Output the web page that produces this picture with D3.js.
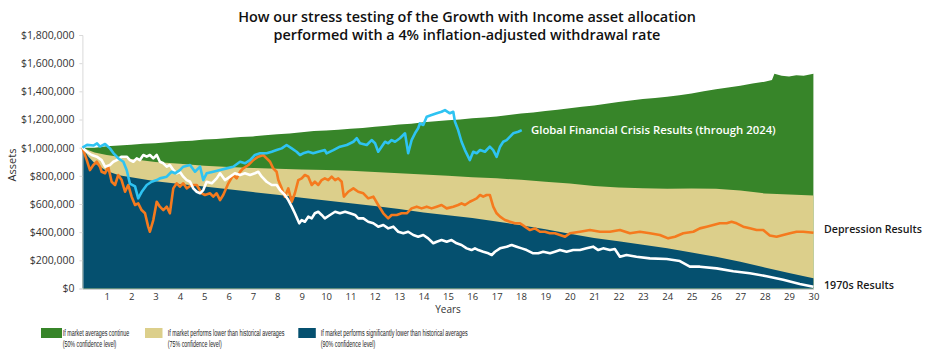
<!DOCTYPE html>
<html><head><meta charset="utf-8">
<script src="https://cdn.jsdelivr.net/npm/d3@7"></script>
<style>
html,body{margin:0;padding:0;background:#fff;}
svg{display:block;font-family:"Open Sans","Noto Sans",sans-serif;}
</style></head>
<body><svg id="chart" width="936" height="362"></svg>
<script>
// ---- data (values in $ thousands) ----
const titleLines = ["How our stress testing of the Growth with Income asset allocation",
                    "performed with a 4% inflation-adjusted withdrawal rate"];
const yTicks = [0, 200, 400, 600, 800, 1000, 1200, 1400, 1600, 1800];
const xTicks = [1,2,3,4,5,6,7,8,9,10,11,12,13,14,15,16,17,18,19,20,21,22,23,24,25,26,27,28,29,30];

// 50% confidence level (top of green band)
const p50 = [[0,1000],[0.5,1000],[1,1010],[1.5,1015],[2,1020],[2.5,1028],[3,1032],[3.5,1038],[4,1045],[4.5,1050],
  [5,1058],[5.5,1062],[6,1068],[6.5,1075],[7,1080],[7.5,1088],[8,1095],[8.5,1100],[9,1110],[9.5,1118],
  [10,1122],[10.5,1128],[11,1135],[11.5,1140],[12,1148],[12.5,1155],[13,1165],[13.5,1170],[14,1180],[14.5,1188],
  [15,1195],[15.5,1200],[16,1208],[16.5,1215],[17,1222],[17.5,1232],[18,1242],[18.5,1250],[19,1260],[19.5,1270],
  [20,1280],[20.5,1290],[21,1300],[21.5,1312],[22,1325],[22.5,1335],[23,1345],[23.5,1352],[24,1362],[24.5,1372],
  [25,1385],[25.5,1400],[26,1415],[26.5,1428],[27,1440],[27.5,1455],[28,1468],[28.3,1480],[28.4,1525],[28.7,1510],
  [29,1505],[29.3,1515],[29.6,1510],[30,1525]];
// 75% confidence level (top of tan band)
const p75 = [[0,1000],[0.5,965],[1,948],[1.5,935],[2,920],[2.5,908],[3,898],[4,885],[5,872],[6,862],[7,856],[8,850],
  [9,845],[10,842],[11,836],[12,828],[13,818],[14,810],[15,800],[16,790],[17,782],[18,772],[19,758],[20,745],
  [21,728],[22,718],[23,712],[24,708],[25,710],[26,708],[27,695],[28,675],[29,668],[30,660]];
// 90% confidence level (top of blue band)
const p90 = [[0,1000],[0.25,935],[0.5,890],[1,835],[1.5,805],[2,790],[3,762],[4,742],[5,725],[6,705],[7,685],[8,665],
  [9,645],[10,625],[11,605],[12,585],[13,565],[14,540],[15,520],[16,500],[17,475],[18,450],[19,420],[20,388],
  [21,358],[22,335],[23,310],[24,285],[25,255],[26,225],[27,190],[28,150],[29,110],[30,72]];

const gfc = [[0,1000],[0.19,1020],[0.45,1015],[0.6,1030],[0.72,1007],[0.93,1026],[1.13,995],[1.27,962],[1.47,925],
  [1.68,900],[1.82,840],[1.95,745],[2.16,725],[2.29,640],[2.43,685],[2.64,735],[2.84,758],[3.05,770],[3.18,782],
  [3.46,794],[3.66,829],[3.8,818],[4,841],[4.14,865],[4.42,877],[4.62,829],[4.83,865],[4.96,770],[5.1,818],
  [5.37,829],[5.65,841],[5.92,853],[6.19,865],[6.47,900],[6.67,889],[6.88,912],[7.08,948],[7.29,960],[7.56,960],
  [7.77,971],[7.97,983],[8.18,995],[8.38,1019],[8.59,995],[8.79,971],[8.93,948],[9.06,960],[9.27,971],[9.47,960],
  [9.68,971],[9.95,983],[10.02,960],[10.3,983],[10.57,1007],[10.85,1019],[11.12,1042],[11.26,1067],[11.39,1031],
  [11.67,1019],[11.87,1054],[12.01,1031],[12.14,971],[12.28,1007],[12.42,1042],[12.55,1031],[12.69,1054],
  [12.83,1042],[13.03,1067],[13.24,1102],[13.37,960],[13.51,1054],[13.65,1102],[13.78,1138],[13.85,1173],
  [13.99,1161],[14.13,1220],[14.33,1232],[14.54,1244],[14.74,1255],[14.88,1267],[15.08,1244],[15.22,1255],
  [15.29,1184],[15.42,1125],[15.56,1042],[15.7,983],[15.9,912],[16.04,971],[16.18,960],[16.32,983],[16.52,971],
  [16.72,1007],[16.86,983],[17,935],[17.14,1007],[17.27,1042],[17.41,1054],[17.55,1078],[17.68,1102],
  [17.89,1113],[18.03,1125]];

const depression = [[0,1000],[0.18,912],[0.31,841],[0.45,877],[0.59,900],[0.72,865],[0.79,829],[0.93,818],[1.06,865],
  [1.2,758],[1.34,735],[1.47,806],[1.61,770],[1.75,687],[1.88,735],[2.02,652],[2.16,593],[2.29,605],[2.43,557],
  [2.57,534],[2.7,439],[2.77,403],[2.91,486],[3.05,616],[3.18,581],[3.32,557],[3.46,581],[3.59,534],[3.73,711],
  [3.87,747],[4,723],[4.14,747],[4.28,711],[4.48,735],[4.69,735],[4.9,676],[5.03,664],[5.24,676],[5.37,652],
  [5.51,676],[5.65,628],[5.78,664],[5.99,747],[6.19,806],[6.33,782],[6.47,829],[6.6,853],[6.81,877],[7.01,912],
  [7.22,936],[7.42,948],[7.56,924],[7.7,900],[7.83,853],[7.97,829],[8.04,770],[8.18,711],[8.31,652],[8.45,711],
  [8.59,616],[8.72,676],[8.86,770],[9,782],[9.13,806],[9.27,794],[9.41,735],[9.54,758],[9.68,735],[9.82,770],
  [9.95,782],[10.09,770],[10.23,794],[10.37,770],[10.5,782],[10.64,758],[10.73,652],[10.91,687],[11.12,711],
  [11.32,687],[11.53,676],[11.73,640],[11.94,652],[12.14,593],[12.35,534],[12.55,498],[12.69,522],[12.9,522],
  [13.1,534],[13.31,534],[13.51,569],[13.72,581],[13.92,569],[14.13,581],[14.33,569],[14.54,581],[14.74,593],
  [14.95,569],[15.22,581],[15.42,593],[15.56,605],[15.7,593],[15.9,616],[16.04,628],[16.18,640],[16.32,664],
  [16.45,652],[16.59,664],[16.72,664],[16.86,581],[17,534],[17.14,510],[17.34,486],[17.55,474],[17.75,463],
  [17.96,463],[18.16,439],[18.37,415],[18.57,427],[18.78,403],[18.98,403],[19.19,392],[19.39,392],[19.6,380],
  [19.81,368],[20.01,392],[20.42,403],[20.83,415],[21.24,403],[21.65,403],[22.06,415],[22.47,392],[22.88,403],
  [23.29,392],[23.7,380],[24.04,356],[24.32,368],[24.66,392],[25.07,403],[25.34,427],[25.62,439],[25.89,451],
  [26.16,463],[26.44,463],[26.64,474],[26.85,463],[27.12,439],[27.39,427],[27.67,415],[27.94,415],[28.21,376],
  [28.49,368],[28.76,380],[29.04,392],[29.31,403],[29.58,403],[30,396]];

const seventies = [[0,1000],[0.18,971],[0.38,948],[0.59,936],[0.79,912],[0.93,865],[1.13,877],[1.27,900],[1.41,912],
  [1.61,936],[1.82,936],[1.95,912],[2.09,900],[2.23,924],[2.36,912],[2.5,948],[2.64,936],[2.77,948],[2.91,924],
  [3.05,948],[3.18,900],[3.32,889],[3.46,865],[3.59,877],[3.73,841],[3.87,818],[4,829],[4.14,794],[4.28,770],
  [4.42,758],[4.55,711],[4.69,687],[4.83,676],[4.96,699],[5.1,758],[5.31,747],[5.51,782],[5.65,818],[5.85,770],
  [6.06,794],[6.26,818],[6.47,806],[6.67,818],[6.88,806],[7.08,818],[7.22,829],[7.36,794],[7.56,758],[7.77,735],
  [7.97,735],[8.11,699],[8.31,664],[8.45,628],[8.59,581],[8.72,534],[8.9,463],[9,486],[9.13,474],[9.27,510],
  [9.41,498],[9.54,534],[9.68,545],[9.82,522],[9.95,498],[10.16,522],[10.37,545],[10.57,534],[10.78,545],
  [10.98,534],[11.19,522],[11.32,498],[11.53,498],[11.73,474],[11.94,463],[12.14,439],[12.35,451],[12.55,427],
  [12.76,439],[12.96,403],[13.17,392],[13.37,403],[13.58,380],[13.78,368],[13.99,380],[14.19,356],[14.4,321],
  [14.54,332],[14.74,344],[14.95,332],[15.15,344],[15.36,321],[15.56,309],[15.77,285],[15.97,273],[16.11,285],
  [16.25,273],[16.45,261],[16.66,250],[16.8,238],[16.93,261],[17.14,285],[17.41,297],[17.62,309],[17.82,297],
  [18.03,285],[18.23,273],[18.5,250],[18.71,250],[18.91,261],[19.19,250],[19.39,261],[19.6,273],[19.87,261],
  [20.14,273],[20.42,273],[20.69,285],[20.96,297],[21.17,273],[21.37,285],[21.65,273],[21.85,280],[22.06,226],
  [22.33,238],[22.74,226],[23.29,214],[23.98,209],[24.52,195],[24.93,155],[25.34,155],[26.03,143],[26.71,123],
  [27.39,108],[28.08,87],[28.76,62],[29.44,32],[30,13]];

const legendItems = [
  {label1:"If market averages continue", label2:"(50% confidence level)", key:"p50"},
  {label1:"If market performs lower than historical averages", label2:"(75% confidence level)", key:"p75"},
  {label1:"If market performs significantly lower than historical averages", label2:"(90% confidence level)", key:"p90"}
];
const annotations = [
  {text:"Global Financial Crisis Results (through 2024)", key:"gfc"},
  {text:"Depression Results", key:"dep"},
  {text:"1970s Results", key:"s70"}
];

// ---- styles ----
const colors = {p50:"#378529", p75:"#dccf8b", p90:"#05506f", gfc:"#2ec3f2", dep:"#f57a1e", s70:"#ffffff"};

const svg = d3.select("#chart");
const x = d3.scaleLinear().domain([0,30]).range([82.4, 813.4]);
const y = d3.scaleLinear().domain([0,1800]).range([288.5, 35]);

// title
svg.append("g").selectAll("text").data(titleLines).join("text")
  .attr("x", 467).attr("y", (d,i)=> 22 + i*17.5)
  .attr("text-anchor","middle")
  .attr("font-size", 14.4).attr("font-weight", 600).attr("fill","#111")
  .text(d=>d);

// areas
const area = d3.area().x(d=>x(d[0])).y0(y(0)).y1(d=>y(d[1])).curve(d3.curveLinear);
svg.append("path").datum(p50).attr("d", area).attr("fill", colors.p50);
svg.append("path").datum(p75).attr("d", area).attr("fill", colors.p75);
svg.append("path").datum(p90).attr("d", area).attr("fill", colors.p90);

// axes
const yAxis = d3.axisLeft(y).tickValues(yTicks).tickSize(3).tickPadding(5)
  .tickFormat(d => "$" + d3.format(",")(d*1000));
const gy = svg.append("g").attr("transform", `translate(${x(0)},0)`).call(yAxis);
gy.select(".domain").attr("stroke","#d9d9d9");
gy.selectAll(".tick line").attr("stroke","#d9d9d9");
gy.selectAll("text").attr("font-size", 10.5).attr("fill","#333").attr("font-family","'Open Sans',sans-serif");

const xAxis = d3.axisBottom(x).tickValues(xTicks).tickSize(0).tickPadding(4).tickFormat(d3.format("d"));
const gx = svg.append("g").attr("transform", `translate(0,${y(0)+0.5})`).call(xAxis);
gx.select(".domain").attr("stroke","#d0d0d0");
gx.selectAll("text").attr("font-size", 9.5).attr("fill","#333").attr("font-family","'Open Sans',sans-serif");

svg.append("text").attr("x", 448).attr("y", 313).attr("text-anchor","middle")
  .attr("font-size", 10).attr("fill","#333").text("Years");
svg.append("text").attr("transform","translate(16,165) rotate(-90)").attr("text-anchor","middle")
  .attr("font-size", 11).attr("fill","#333").text("Assets");

// lines
const line = d3.line().x(d=>x(d[0])).y(d=>y(d[1])).curve(d3.curveLinear);
svg.append("path").datum(depression).attr("d", line).attr("fill","none")
  .attr("stroke", colors.dep).attr("stroke-width", 2.6).attr("stroke-linejoin","round");
svg.append("path").datum(seventies).attr("d", line).attr("fill","none")
  .attr("stroke", colors.s70).attr("stroke-width", 2.6).attr("stroke-linejoin","round");
svg.append("path").datum(gfc).attr("d", line).attr("fill","none")
  .attr("stroke", colors.gfc).attr("stroke-width", 2.6).attr("stroke-linejoin","round");

// helper: horizontally condense a text to a target width
function fitWidth(sel, xPos, yPos, w) {
  sel.each(function(d,i){
    const t = d3.select(this);
    const n = this.getComputedTextLength();
    const sx = Math.min(1, w(d,i) / n);
    t.attr("x", 0).attr("y", 0)
     .attr("transform", `translate(${xPos(d,i)},${yPos(d,i)}) scale(${sx},1)`);
  });
}

// annotations
const annPos = {gfc:[531,134,"#ffffff",245], dep:[824,233,"#1a1a1a",98], s70:[824,289,"#1a1a1a",70]};
svg.append("g").selectAll("text").data(annotations).join("text")
  .attr("fill", d=>annPos[d.key][2])
  .attr("font-size", 11.5).attr("font-weight", 600)
  .text(d=>d.text)
  .call(fitWidth, d=>annPos[d.key][0], d=>annPos[d.key][1], d=>annPos[d.key][3]);

// legend
const legFont = "'Liberation Sans Narrow','Liberation Sans',Arial,sans-serif";
const legPos = [[41,62.7,66.6,53.7],[145,167.7,117,54],[298.3,320.7,147,54.7]];
const lg = svg.append("g").selectAll("g").data(legendItems).join("g");
lg.append("rect").attr("x",(d,i)=>legPos[i][0]).attr("y",328).attr("width",(d,i)=> i===0?21:17.5).attr("height",10)
  .attr("fill", d=>colors[d.key]);
lg.append("text").attr("font-size",9.2).attr("font-family",legFont).attr("fill","#222")
  .text(d=>d.label1)
  .call(fitWidth, (d,i)=>legPos[i][1], ()=>336.3, (d,i)=>legPos[i][2]);
lg.append("text").attr("font-size",9.2).attr("font-family",legFont).attr("fill","#222")
  .text(d=>d.label2)
  .call(fitWidth, (d,i)=>legPos[i][1], ()=>347, (d,i)=>legPos[i][3]);
</script></body></html>
